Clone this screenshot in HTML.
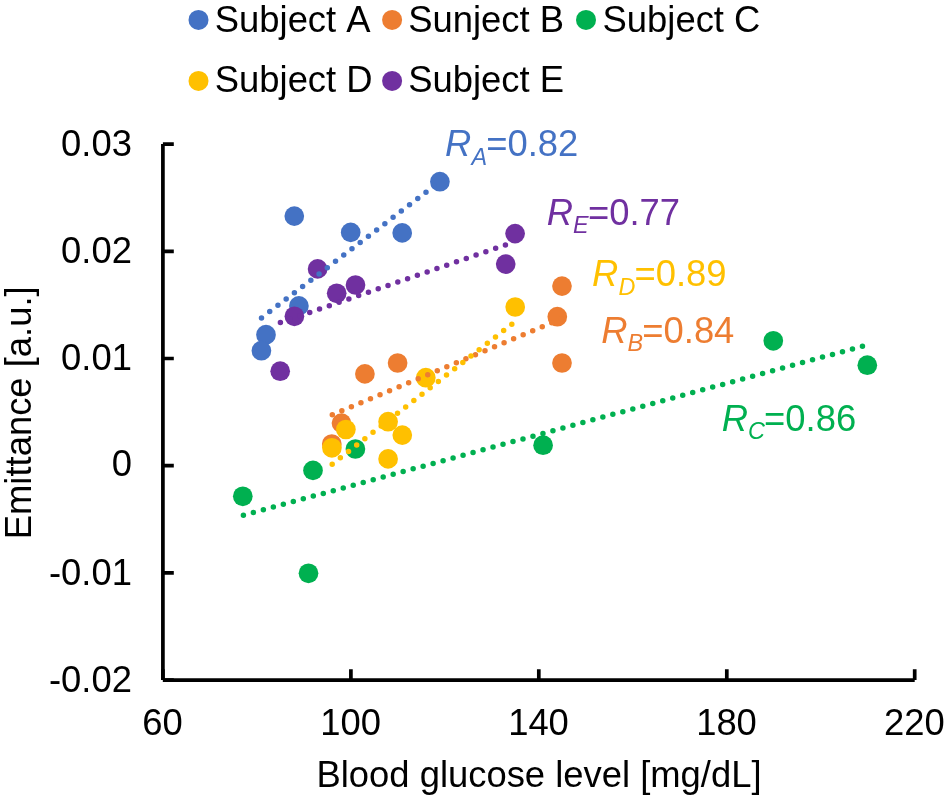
<!DOCTYPE html>
<html><head><meta charset="utf-8"><style>
html,body{margin:0;padding:0;background:#fff;width:944px;height:799px;overflow:hidden}
svg{display:block;will-change:transform}
.t{font-family:"Liberation Sans",sans-serif;font-size:36.4px;font-kerning:none}
</style></head><body>
<svg width="944" height="799" viewBox="0 0 944 799">
<path d="M162.9 144.1V680.1M162.9 680.1H914.7" stroke="#000" stroke-width="3.7" fill="none"/>
<path d="M162.9 144.1H173.8M162.9 251.3H173.8M162.9 358.5H173.8M162.9 465.7H173.8M162.9 572.9H173.8M162.9 680.1H173.8M162.9 680.1V669.2M350.9 680.1V669.2M538.8 680.1V669.2M726.8 680.1V669.2M914.7 680.1V669.2" stroke="#000" stroke-width="3.7" fill="none"/>
<text x="131.9" y="156" text-anchor="end" class="t">0.03</text>
<text x="131.9" y="263" text-anchor="end" class="t">0.02</text>
<text x="131.9" y="370" text-anchor="end" class="t">0.01</text>
<text x="131.9" y="476" text-anchor="end" class="t">0</text>
<text x="131.9" y="585" text-anchor="end" class="t">-0.01</text>
<text x="131.9" y="692" text-anchor="end" class="t">-0.02</text>
<text x="162.6" y="735.2" text-anchor="middle" class="t">60</text>
<text x="350.6" y="735.2" text-anchor="middle" class="t">100</text>
<text x="538.5" y="735.2" text-anchor="middle" class="t">140</text>
<text x="726.5" y="735.2" text-anchor="middle" class="t">180</text>
<text x="914.4" y="735.2" text-anchor="middle" class="t">220</text>
<text x="539" y="787" text-anchor="middle" class="t">Blood glucose level [mg/dL]</text>
<text transform="translate(30.9 412.8) rotate(-90)" x="0" y="0" text-anchor="middle" class="t">Emittance [a.u.]</text>
<circle cx="294.3" cy="216.1" r="9.85" fill="#4472C4"/>
<circle cx="350.7" cy="232.4" r="9.85" fill="#4472C4"/>
<circle cx="402.2" cy="232.9" r="9.85" fill="#4472C4"/>
<circle cx="439.9" cy="181.7" r="9.85" fill="#4472C4"/>
<circle cx="298.9" cy="305.9" r="9.85" fill="#4472C4"/>
<circle cx="266.0" cy="334.7" r="9.85" fill="#4472C4"/>
<circle cx="261.4" cy="350.7" r="9.85" fill="#4472C4"/>
<circle cx="562.0" cy="286.1" r="9.85" fill="#ED7D31"/>
<circle cx="557.3" cy="316.7" r="9.85" fill="#ED7D31"/>
<circle cx="562.0" cy="363.0" r="9.85" fill="#ED7D31"/>
<circle cx="397.6" cy="363.0" r="9.85" fill="#ED7D31"/>
<circle cx="364.9" cy="373.9" r="9.85" fill="#ED7D31"/>
<circle cx="341.5" cy="423.1" r="9.85" fill="#ED7D31"/>
<circle cx="331.8" cy="444.0" r="9.85" fill="#ED7D31"/>
<circle cx="242.8" cy="496.3" r="9.85" fill="#00B050"/>
<circle cx="308.5" cy="573.3" r="9.85" fill="#00B050"/>
<circle cx="313.0" cy="470.4" r="9.85" fill="#00B050"/>
<circle cx="355.4" cy="449.0" r="9.85" fill="#00B050"/>
<circle cx="543.1" cy="445.2" r="9.85" fill="#00B050"/>
<circle cx="773.3" cy="340.8" r="9.85" fill="#00B050"/>
<circle cx="867.3" cy="365.2" r="9.85" fill="#00B050"/>
<circle cx="515.2" cy="307.0" r="9.85" fill="#FFC000"/>
<circle cx="425.8" cy="377.7" r="9.85" fill="#FFC000"/>
<circle cx="388.1" cy="421.7" r="9.85" fill="#FFC000"/>
<circle cx="402.3" cy="435.1" r="9.85" fill="#FFC000"/>
<circle cx="388.1" cy="458.9" r="9.85" fill="#FFC000"/>
<circle cx="345.9" cy="429.5" r="9.85" fill="#FFC000"/>
<circle cx="331.9" cy="447.8" r="9.85" fill="#FFC000"/>
<circle cx="515.1" cy="233.6" r="9.85" fill="#7030A0"/>
<circle cx="505.7" cy="264.1" r="9.85" fill="#7030A0"/>
<circle cx="317.6" cy="268.9" r="9.85" fill="#7030A0"/>
<circle cx="355.5" cy="285.0" r="9.85" fill="#7030A0"/>
<circle cx="336.7" cy="293.3" r="9.85" fill="#7030A0"/>
<circle cx="294.4" cy="316.3" r="9.85" fill="#7030A0"/>
<circle cx="280.2" cy="371.2" r="9.85" fill="#7030A0"/>
<path d="M261.5 317.9L439.9 181.6" stroke="#4472C4" stroke-width="5.5" stroke-linecap="round" stroke-dasharray="0 10.35" fill="none"/>
<path d="M332.3 414.83L562.0 318.4" stroke="#ED7D31" stroke-width="5.5" stroke-linecap="round" stroke-dasharray="0 10.35" fill="none"/>
<path d="M243.4 515.19L867.3 344.9" stroke="#00B050" stroke-width="5.5" stroke-linecap="round" stroke-dasharray="0 10.35" fill="none"/>
<path d="M332.2 464.17L515.2 321.6" stroke="#FFC000" stroke-width="5.5" stroke-linecap="round" stroke-dasharray="0 10.35" fill="none"/>
<path d="M280.4 322.6L515.1 241.6" stroke="#7030A0" stroke-width="5.5" stroke-linecap="round" stroke-dasharray="0 10.35" fill="none"/>
<text x="445.1" y="155.9" class="t" fill="#4472C4"><tspan font-style="italic">R</tspan><tspan font-style="italic" font-size="23.4" dy="8.7">A</tspan><tspan dx="-0.8" dy="-8.7">=0.82</tspan></text>
<text x="546.8" y="224.7" class="t" fill="#7030A0"><tspan font-style="italic">R</tspan><tspan font-style="italic" font-size="23.4" dy="8.7">E</tspan><tspan dx="-0.8" dy="-8.7">=0.77</tspan></text>
<text x="592.1" y="285.9" class="t" fill="#FFC000"><tspan font-style="italic">R</tspan><tspan font-style="italic" font-size="23.4" dy="8.7">D</tspan><tspan dx="-0.8" dy="-8.7">=0.89</tspan></text>
<text x="601.2" y="342.6" class="t" fill="#ED7D31"><tspan font-style="italic">R</tspan><tspan font-style="italic" font-size="23.4" dy="8.7">B</tspan><tspan dx="-0.8" dy="-8.7">=0.84</tspan></text>
<text x="721.7" y="430.7" class="t" fill="#00B050"><tspan font-style="italic">R</tspan><tspan font-style="italic" font-size="23.4" dy="8.7">C</tspan><tspan dx="-0.8" dy="-8.7">=0.86</tspan></text>
<circle cx="198.5" cy="19.9" r="10" fill="#4472C4"/>
<text x="214.8" y="31.5" class="t">Subject A</text>
<circle cx="392.1" cy="19.9" r="10" fill="#ED7D31"/>
<text x="408.2" y="31.5" class="t">Sunject B</text>
<circle cx="586.0" cy="19.9" r="10" fill="#00B050"/>
<text x="602.6" y="31.5" class="t">Subject C</text>
<circle cx="198.5" cy="80.9" r="10" fill="#FFC000"/>
<text x="214.8" y="92.0" class="t">Subject D</text>
<circle cx="392.1" cy="80.9" r="10" fill="#7030A0"/>
<text x="408.2" y="92.0" class="t">Subject E</text>
</svg>
</body></html>
